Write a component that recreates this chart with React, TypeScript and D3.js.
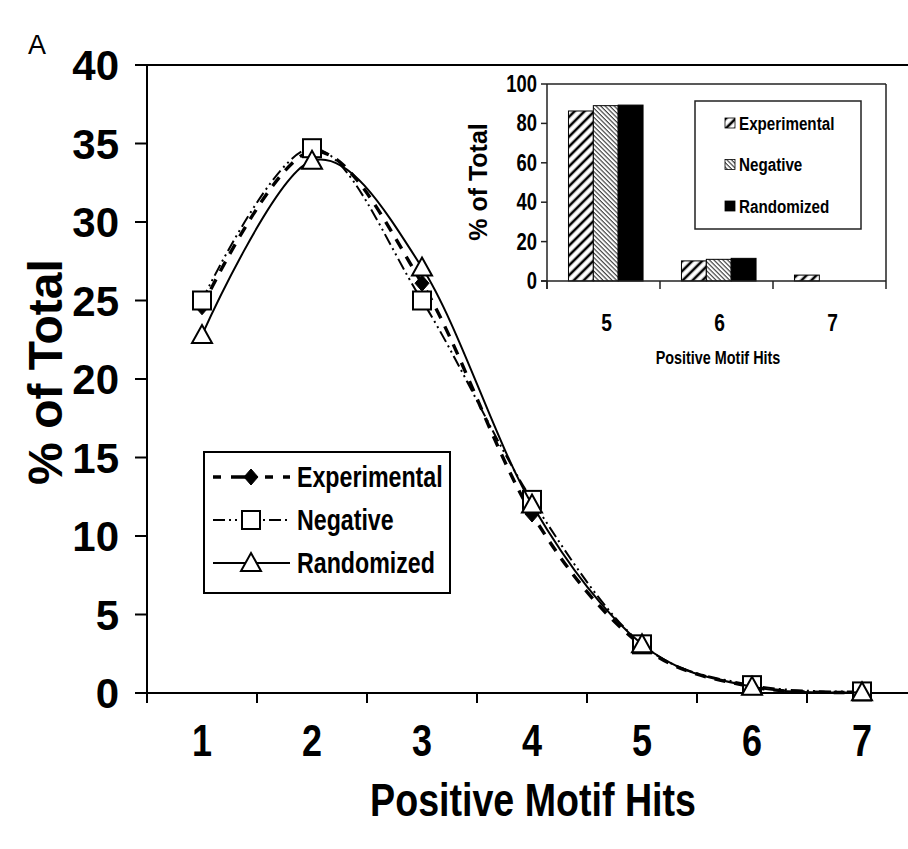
import React, { useEffect, useRef } from 'react';
import * as d3 from 'd3';

// main chart data
const hits = [1, 2, 3, 4, 5, 6, 7];
const experimental = [24.6, 34.5, 26.1, 11.4, 3.0, 0.4, 0.05];
const negative = [25.0, 34.7, 25.0, 12.3, 3.1, 0.5, 0.1];
const randomized = [22.8, 33.9, 27.1, 12.0, 3.1, 0.4, 0.05];
const yTicks = [0, 5, 10, 15, 20, 25, 30, 35, 40];

// inset data
const insetHits = [5, 6, 7];
const insetExperimental = [86.3, 10.2, 3.0];
const insetNegative = [89.0, 11.0, 0];
const insetRandomized = [89.3, 11.5, 0];
const insetTicks = [0, 20, 40, 60, 80, 100];

const seriesNames = ['Experimental', 'Negative', 'Randomized'];

const WIDE = "'Liberation Sans', Arial, sans-serif";
const SQUEEZE = 0.8; // no narrow font installed, so condense bold Liberation Sans

const App = () => {
  const svgRef = useRef(null);

  useEffect(() => {
    const svg = d3.select(svgRef.current);
    svg.selectAll('*').remove();
    draw(svg);
  }, []);

  // condensed bold text, like Arial Narrow Bold
  const narrow = (g, str, x, y, size, anchor = 'start') =>
    g.append('text').text(str)
      .attr('transform', `translate(${x},${y}) scale(${SQUEEZE},1)`)
      .attr('text-anchor', anchor)
      .attr('font-family', WIDE).attr('font-weight', 'bold').attr('font-size', size);

  const draw = (svg) => {
    const W = 908, H = 849;
    svg.attr('width', W).attr('height', H);
    svg.append('rect').attr('width', W).attr('height', H).attr('fill', 'white');

    // hatch patterns for the inset bars
    const defs = svg.append('defs');
    defs.append('pattern')
      .attr('id', 'hatchExp')
      .attr('patternUnits', 'userSpaceOnUse')
      .attr('width', 7).attr('height', 7)
      .attr('patternTransform', 'rotate(45)')
      .call(p => {
        p.append('rect').attr('width', 7).attr('height', 7).attr('fill', 'white');
        p.append('line').attr('x1', 2).attr('y1', 0).attr('x2', 2).attr('y2', 7)
          .attr('stroke', 'black').attr('stroke-width', 2.6);
      });
    defs.append('pattern')
      .attr('id', 'hatchNeg')
      .attr('patternUnits', 'userSpaceOnUse')
      .attr('width', 3.2).attr('height', 3.2)
      .attr('patternTransform', 'rotate(-45)')
      .call(p => {
        p.append('rect').attr('width', 3.2).attr('height', 3.2).attr('fill', 'white');
        p.append('line').attr('x1', 1).attr('y1', 0).attr('x2', 1).attr('y2', 3.2)
          .attr('stroke', '#333').attr('stroke-width', 1.1);
      });
    const barFill = ['url(#hatchExp)', 'url(#hatchNeg)', 'black'];

    // ---------- main chart ----------
    const left = 147, right = 917, top = 65, bottom = 693;
    const x = d3.scaleBand().domain(hits).range([left, right]);
    const y = d3.scaleLinear().domain([0, 40]).range([bottom, top]);

    svg.append('text').text('A')
      .attr('x', 28).attr('y', 54)
      .attr('font-family', WIDE).attr('font-size', 27);

    // frame top, y axis, x axis
    svg.append('line').attr('x1', left).attr('x2', right).attr('y1', top).attr('y2', top)
      .attr('stroke', 'black').attr('stroke-width', 2);
    svg.append('line').attr('x1', left).attr('x2', left).attr('y1', top).attr('y2', bottom + 8)
      .attr('stroke', 'black').attr('stroke-width', 2);
    svg.append('line').attr('x1', left - 12).attr('x2', right).attr('y1', bottom).attr('y2', bottom)
      .attr('stroke', 'black').attr('stroke-width', 2);

    yTicks.forEach(t => {
      svg.append('line').attr('x1', left - 12).attr('x2', left)
        .attr('y1', y(t)).attr('y2', y(t)).attr('stroke', 'black').attr('stroke-width', 2);
      svg.append('text').text(t)
        .attr('x', 119).attr('y', y(t)).attr('dy', '0.36em')
        .attr('text-anchor', 'end')
        .attr('font-family', WIDE).attr('font-weight', 'bold').attr('font-size', 42);
    });

    // x ticks sit on category boundaries
    d3.range(hits.length + 1).forEach(i => {
      const xx = left + i * x.bandwidth();
      svg.append('line').attr('x1', xx).attr('x2', xx)
        .attr('y1', bottom).attr('y2', bottom + 10).attr('stroke', 'black').attr('stroke-width', 2);
    });
    hits.forEach(h => {
      narrow(svg, h, x(h) + x.bandwidth() / 2, 756, 45, 'middle');
    });

    narrow(svg, 'Positive Motif Hits', 533, 816, 47, 'middle');

    svg.append('text').text('% of Total')
      .attr('transform', 'translate(62,372) rotate(-90)')
      .attr('text-anchor', 'middle')
      .attr('font-family', WIDE).attr('font-weight', 'bold').attr('font-size', 48);

    // marker shapes
    const diamond = (g, cx, cy) => g.append('path')
      .attr('d', `M${cx},${cy - 8}L${cx + 7},${cy}L${cx},${cy + 8}L${cx - 7},${cy}Z`)
      .attr('fill', 'black').attr('stroke', 'black').attr('stroke-width', 1);
    const square = (g, cx, cy) => g.append('rect')
      .attr('x', cx - 9).attr('y', cy - 9).attr('width', 18).attr('height', 18)
      .attr('fill', 'white').attr('stroke', 'black').attr('stroke-width', 2);
    const triangle = (g, cx, cy) => g.append('path')
      .attr('d', `M${cx},${cy - 10}L${cx + 10},${cy + 8}L${cx - 10},${cy + 8}Z`)
      .attr('fill', 'white').attr('stroke', 'black').attr('stroke-width', 2);

    const series = [
      { name: 'Experimental', values: experimental, dash: '11,9', width: 3.4, marker: diamond, legendDash: '8,10,24,10' },
      { name: 'Negative', values: negative, dash: '12,4,2,4,2,4', width: 2, marker: square, legendDash: '12,4,2,4,2,4' },
      { name: 'Randomized', values: randomized, dash: null, width: 2, marker: triangle, legendDash: null },
    ];

    const line = d3.line()
      .x((d, i) => x(hits[i]) + x.bandwidth() / 2)
      .y(d => y(d))
      .curve(d3.curveCatmullRom.alpha(0));

    series.forEach(s => {
      const g = svg.append('g');
      g.append('path').datum(s.values)
        .attr('d', line)
        .attr('fill', 'none')
        .attr('stroke', 'black')
        .attr('stroke-width', s.width)
        .attr('stroke-dasharray', s.dash);
      s.values.forEach((v, i) => s.marker(g, x(hits[i]) + x.bandwidth() / 2, y(v)));
    });

    // main legend
    const lg = svg.append('g');
    lg.append('rect').attr('x', 204).attr('y', 452).attr('width', 246).attr('height', 141)
      .attr('fill', 'white').attr('stroke', 'black').attr('stroke-width', 2);
    series.forEach((s, i) => {
      const ly = 477 + i * 43;
      lg.append('line').attr('x1', 213).attr('x2', 290).attr('y1', ly).attr('y2', ly)
        .attr('stroke', 'black').attr('stroke-width', s.width)
        .attr('stroke-dasharray', s.legendDash);
      s.marker(lg, 251, ly);
      narrow(lg, s.name, 297, ly + 10, 29);
    });

    // ---------- inset bar chart ----------
    const iLeft = 547, iRight = 886, iTop = 84, iBottom = 281;
    const xi = d3.scaleBand().domain(insetHits).range([iLeft, iRight]);
    const xs = d3.scaleBand().domain(seriesNames)
      .range([xi.bandwidth() * 0.19, xi.bandwidth() * 0.85]);
    const yi = d3.scaleLinear().domain([0, 100]).range([iBottom, iTop]);
    const insetSeries = [insetExperimental, insetNegative, insetRandomized];

    const ig = svg.append('g');
    insetSeries.forEach((vals, si) => {
      insetHits.forEach((h, i) => {
        if (vals[i] <= 0) return;
        ig.append('rect')
          .attr('x', xi(h) + xs(seriesNames[si]))
          .attr('y', yi(vals[i]))
          .attr('width', xs.bandwidth())
          .attr('height', iBottom - yi(vals[i]))
          .attr('fill', barFill[si])
          .attr('stroke', 'black').attr('stroke-width', 1);
      });
    });

    // inset frame and axes
    ig.append('line').attr('x1', iLeft).attr('x2', iRight).attr('y1', iTop).attr('y2', iTop)
      .attr('stroke', '#222').attr('stroke-width', 1.5);
    ig.append('line').attr('x1', iRight).attr('x2', iRight).attr('y1', iTop).attr('y2', iBottom)
      .attr('stroke', '#222').attr('stroke-width', 1.5);
    ig.append('line').attr('x1', iLeft).attr('x2', iLeft).attr('y1', iTop).attr('y2', iBottom + 8)
      .attr('stroke', '#222').attr('stroke-width', 1.5);
    ig.append('line').attr('x1', iLeft - 6).attr('x2', iRight).attr('y1', iBottom).attr('y2', iBottom)
      .attr('stroke', '#222').attr('stroke-width', 1.5);
    insetTicks.forEach(t => {
      ig.append('line').attr('x1', iLeft - 6).attr('x2', iLeft)
        .attr('y1', yi(t)).attr('y2', yi(t)).attr('stroke', '#222').attr('stroke-width', 1.5);
      narrow(ig, t, 537, yi(t) + 8, 23, 'end');
    });
    d3.range(insetHits.length + 1).forEach(i => {
      const xx = iLeft + i * xi.bandwidth();
      ig.append('line').attr('x1', xx).attr('x2', xx)
        .attr('y1', iBottom).attr('y2', iBottom + 8).attr('stroke', '#222').attr('stroke-width', 1.5);
    });
    insetHits.forEach(h => {
      narrow(ig, h, xi(h) + xi.bandwidth() / 2 + 3, 331, 24, 'middle');
    });
    narrow(ig, 'Positive Motif Hits', 718, 364, 18, 'middle');
    ig.append('text').text('% of Total')
      .attr('transform', 'translate(487,182) rotate(-90)')
      .attr('text-anchor', 'middle')
      .attr('font-family', WIDE).attr('font-weight', 'bold').attr('font-size', 25);

    // inset legend
    ig.append('rect').attr('x', 695).attr('y', 101).attr('width', 166).attr('height', 128)
      .attr('fill', 'white').attr('stroke', '#222').attr('stroke-width', 1.5);
    seriesNames.forEach((n, i) => {
      const ly = 123 + i * 41.5;
      ig.append('rect').attr('x', 725).attr('y', ly - 5).attr('width', 10).attr('height', 10)
        .attr('fill', barFill[i]).attr('stroke', 'black').attr('stroke-width', 0.8);
      narrow(ig, n, 739, ly + 6.5, 19);
    });
  };

  return (
    <div>
      <svg ref={svgRef} style={{ position: 'absolute', left: 0, top: 0 }}></svg>
    </div>
  );
};

export default App;
